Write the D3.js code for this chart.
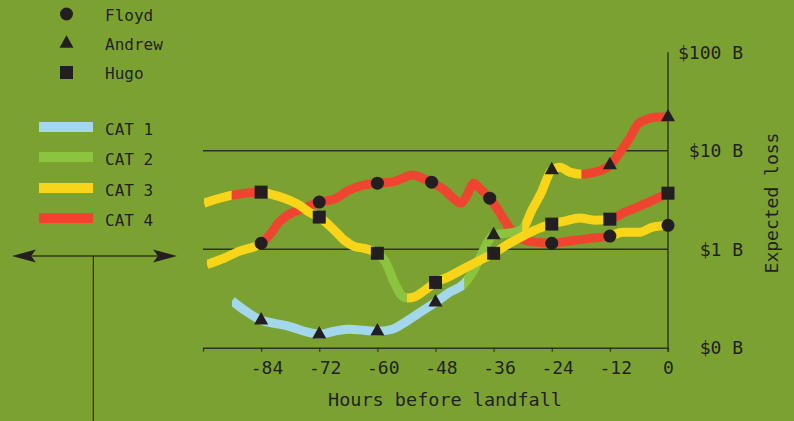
<!DOCTYPE html>
<html><head><meta charset="utf-8">
<script src="https://cdn.jsdelivr.net/npm/d3@7"></script>
<style>
html,body{margin:0;padding:0;background:#7ba230;}
svg{display:block;}
text{font-family:"DejaVu Sans Mono",monospace;fill:#231f20;}
</style></head><body>
<svg id="c" width="794" height="421"></svg>
<script>
// ---------- data ----------
const categories = ["CAT 1", "CAT 2", "CAT 3", "CAT 4"];
const categoryColors = ["#a3d7ec", "#8cc43f", "#f9d51a", "#ef4530"];
const storms = ["Floyd", "Andrew", "Hugo"];
const stormSymbols = ["circle", "triangle", "square"];
const hourTicks = [-96, -84, -72, -60, -48, -36, -24, -12, 0];
const hourLabels = ["", "-84", "-72", "-60", "-48", "-36", "-24", "-12", "0"];
const lossTicks = [0.1, 1, 10, 100];
const lossLabels = ["$0 B", "$1 B", "$10 B", "$100 B"];

// [hours before landfall, expected loss $B]
const floydCurve = [[-95.2,0.70],[-91.7,0.81],[-88.6,0.95],[-84,1.15],[-82.3,1.39],[-80.3,1.88],[-78.2,2.27],[-75.1,2.61],[-72,3.01],[-69.0,3.22],[-65.8,3.98],[-62.9,4.48],[-60,4.69],[-57.1,4.80],[-54.8,5.27],[-52.8,5.66],[-50.7,5.27],[-48.8,4.80],[-46.1,3.98],[-44.1,3.22],[-42.8,2.94],[-41.6,3.46],[-40.1,4.69],[-38.9,4.17],[-36.8,3.30],[-34.8,2.38],[-32.7,1.64],[-30.6,1.29],[-27.5,1.18],[-24,1.15],[-20.3,1.21],[-16.1,1.29],[-12,1.36],[-9.3,1.49],[-5.8,1.49],[-3.3,1.67],[0,1.75]];
// [from hour, to hour, category index]
const floydSegments = [[-95.2,-84,2],[-84,-12,3],[-12,0,2]];
const floydMarkers = [-84,-72,-60,-48.8,-36.8,-24,-12,0];

const andrewCurve = [[-90,0.30],[-87.1,0.234],[-84,0.19],[-81.3,0.177],[-78.2,0.165],[-75.1,0.147],[-72,0.137],[-68.9,0.147],[-65.8,0.154],[-62.7,0.150],[-60,0.147],[-56.9,0.154],[-54.4,0.18],[-51.7,0.22],[-48,0.289],[-45.1,0.365],[-42,0.451],[-39.9,0.641],[-38.3,0.932],[-36,1.39],[-33.5,1.45],[-31,1.52],[-29.5,1.75],[-28.3,2.38],[-26.3,3.63],[-24,6.36],[-22.3,6.82],[-20.3,6.07],[-17.8,5.79],[-15.1,6.07],[-12,7.15],[-9.9,9.69],[-7.9,13.5],[-6.2,18.7],[-4.3,21.0],[-2.3,22.0],[0,22.0]];
const andrewSegments = [[-90,-42,0],[-42,-30,1],[-30,-17.8,2],[-17.8,0,3]];
const andrewMarkers = [-84,-72,-60,-48,-36,-24,-12,0];

const hugoCurve = [[-95.8,2.94],[-90,3.54],[-84,3.80],[-81.3,3.54],[-78.2,3.15],[-76.1,2.80],[-74.1,2.38],[-72,2.12],[-68.9,1.56],[-66.8,1.23],[-64.8,1.07],[-62.7,1.02],[-60,0.91],[-58.3,0.74],[-56.5,0.46],[-55.0,0.34],[-53.8,0.32],[-52.3,0.33],[-50.3,0.38],[-48,0.46],[-45.1,0.53],[-42,0.64],[-38.9,0.77],[-36,0.91],[-32.7,1.15],[-29.6,1.39],[-26.5,1.64],[-24,1.80],[-21.3,1.93],[-18.2,2.07],[-15.1,1.97],[-12,2.02],[-8.9,2.38],[-5.8,2.74],[-2.7,3.22],[0,3.71]];
const hugoSegments = [[-95.8,-90,2],[-90,-84,3],[-84,-60,2],[-60,-53.8,1],[-53.8,-12,2],[-12,0,3]];
const hugoMarkers = [-84,-72,-60,-48,-36,-24,-12,0];

// ---------- drawing ----------
const svg = d3.select("#c");
const ink = "#231f20";
const axisCol = "#2e3320";

const x = d3.scaleLinear().domain([-96, 0]).range([203, 668]);
const y = d3.scaleLog().domain([0.1, 100]).range([347.7, 52.3]);

// gridlines
svg.append("g").selectAll("line").data([1, 10]).join("line")
  .attr("x1", x(-96)).attr("x2", x(0))
  .attr("y1", d => y(d)).attr("y2", d => y(d))
  .attr("stroke", axisCol).attr("stroke-width", 1.4);

// bottom axis
const xAxis = d3.axisBottom(x).tickValues(hourTicks).tickSize(4).tickSizeOuter(0)
  .tickFormat((d, i) => hourLabels[i]);
const gx = svg.append("g").attr("transform", `translate(0,${y(0.1)})`).call(xAxis);
gx.select(".domain").attr("stroke", axisCol).attr("stroke-width", 1.4);
gx.selectAll(".tick line").attr("stroke", axisCol).attr("stroke-width", 1.2);
gx.selectAll(".tick text")
  .attr("font-family", '"DejaVu Sans Mono", monospace')
  .attr("font-size", 18).attr("fill", ink)
  .attr("y", 0).attr("dy", 0)
  .attr("transform", null)
  .attr("x", d => d < 0 ? 5.4 : 0)
  .attr("y", 26);

// right axis line
svg.append("line").attr("x1", x(0)).attr("x2", x(0))
  .attr("y1", y(100)).attr("y2", y(0.1) + 4)
  .attr("stroke", axisCol).attr("stroke-width", 1.4);

// y labels
svg.append("g").selectAll("text").data(lossTicks).join("text")
  .attr("x", 743).attr("y", d => y(d) + 6.5)
  .attr("text-anchor", "end").attr("font-size", 18)
  .text((d, i) => lossLabels[i]);

// axis titles
svg.append("text").attr("x", 445).attr("y", 406).attr("text-anchor", "middle")
  .attr("font-size", 18.5).text("Hours before landfall");
svg.append("text").attr("transform", "translate(778,203) rotate(-90)")
  .attr("text-anchor", "middle").attr("font-size", 18).text("Expected loss");

// curves
const line = d3.line().x(d => x(d[0])).y(d => y(d[1])).curve(d3.curveMonotoneX);
const defs = svg.append("defs");
const stormData = [
  {name: "Floyd", curve: floydCurve, segs: floydSegments, markers: floydMarkers, sym: stormSymbols[0]},
  {name: "Andrew", curve: andrewCurve, segs: andrewSegments, markers: andrewMarkers, sym: stormSymbols[1]},
  {name: "Hugo", curve: hugoCurve, segs: hugoSegments, markers: hugoMarkers, sym: stormSymbols[2]}
];
const curvesG = svg.append("g");
stormData.forEach((s, si) => {
  s.segs.forEach((seg, k) => {
    const id = `clip-${si}-${k}`;
    const x0 = x(seg[0]) - (k > 0 ? 0.4 : 0);
    const x1 = x(seg[1]) + (k < s.segs.length - 1 ? 0.4 : 0);
    defs.append("clipPath").attr("id", id).append("rect")
      .attr("x", x0).attr("y", 0).attr("width", x1 - x0).attr("height", 421);
    curvesG.append("path").datum(s.curve)
      .attr("d", line).attr("fill", "none")
      .attr("stroke", categoryColors[seg[2]]).attr("stroke-width", 9)
      .attr("clip-path", `url(#${id})`);
  });
});

function drawSymbol(g, sym, cx, cy, scale) {
  if (sym === "circle") {
    g.append("circle").attr("cx", cx).attr("cy", cy).attr("r", 6.5 * scale).attr("fill", ink);
  } else if (sym === "square") {
    const h = 6.5 * scale;
    g.append("rect").attr("x", cx - h).attr("y", cy - h).attr("width", 2 * h).attr("height", 2 * h).attr("fill", ink);
  } else {
    const w = 14 * scale, hh = 12.5 * scale;
    g.append("path").attr("d", `M${cx},${cy - hh * 2 / 3}L${cx + w / 2},${cy + hh / 3}L${cx - w / 2},${cy + hh / 3}Z`).attr("fill", ink);
  }
}

const markG = svg.append("g");
stormData.forEach(s => {
  s.markers.forEach(h => {
    const p = s.curve.find(d => d[0] === h);
    if (p) drawSymbol(markG, s.sym, x(p[0]), y(p[1]), 1);
  });
});

// legend: storms
const legG = svg.append("g");
const stormLegendY = [14, 43.5, 72.5];
storms.forEach((name, i) => {
  drawSymbol(legG, stormSymbols[i], 66.5, stormLegendY[i], 1);
  legG.append("text").attr("x", 105).attr("y", stormLegendY[i] + 6.5)
    .attr("font-size", 16).text(name);
});
// legend: categories
const catLegendY = [127, 157, 188, 218];
categories.forEach((c, i) => {
  legG.append("rect").attr("x", 39).attr("y", catLegendY[i] - 5).attr("width", 54).attr("height", 10)
    .attr("fill", categoryColors[i]);
  legG.append("text").attr("x", 105).attr("y", catLegendY[i] + 8)
    .attr("font-size", 16).text(c);
});

// decorative arrow at left
const deco = svg.append("g").attr("fill", "#231f20");
deco.append("line").attr("x1", 30).attr("x2", 160).attr("y1", 256).attr("y2", 256)
  .attr("stroke", "#33381f").attr("stroke-width", 1.6);
deco.append("path").attr("d", "M12,256L36,249.5L31,256L36,262.5Z");
deco.append("path").attr("d", "M177,256L153,249.5L158,256L153,262.5Z");
deco.append("line").attr("x1", 93.3).attr("x2", 93.3).attr("y1", 256).attr("y2", 421)
  .attr("stroke", "#231f20").attr("stroke-width", 1.1);
</script>
</body></html>
